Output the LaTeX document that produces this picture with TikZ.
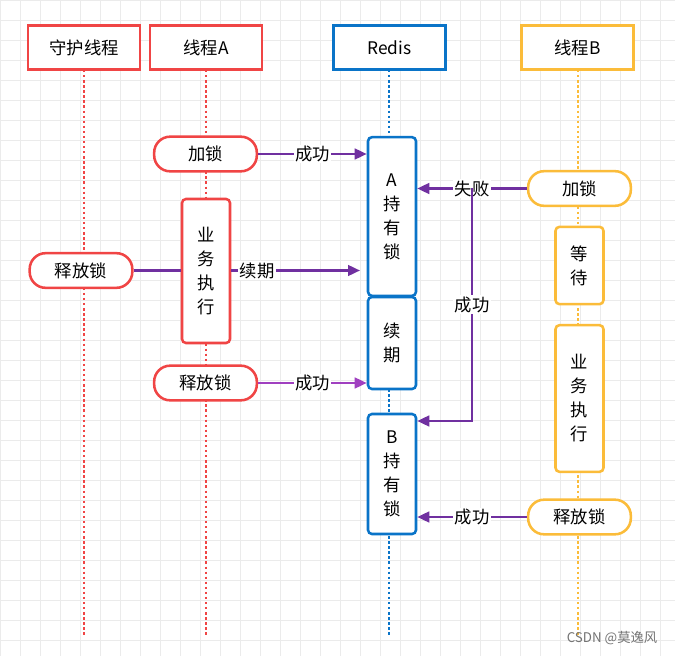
\documentclass[tikz,border=0pt]{standalone}
\usepackage{fontspec}
\setmainfont{Liberation Sans}
\newfontfamily\cjk{Noto Sans CJK SC}
\usetikzlibrary{arrows.meta}
\definecolor{rd}{HTML}{F04545}
\definecolor{bl}{HTML}{0A74C8}
\definecolor{yl}{HTML}{FBBC3A}
\definecolor{pp}{HTML}{7030A0}
\definecolor{pl}{HTML}{A040C0}
\begin{document}
\begin{tikzpicture}[x=0.75pt,y=-0.75pt,font=\cjk\fontsize{13}{18}\selectfont,
 box/.style={draw=#1,line width=1.9pt,fill=white,minimum width=84pt,minimum height=33pt,inner sep=0pt},
 pill/.style={draw=#1,line width=1.9pt,fill=white,rounded corners=12pt,minimum width=77pt,minimum height=26pt,inner sep=0pt},
 tall/.style={draw=#1,line width=1.9pt,fill=white,rounded corners=3pt,minimum width=36pt,inner sep=0pt,align=center},
 life/.style={draw=#1,line width=1.8pt,dotted},
 arr/.style={draw=pp,line width=1.8pt,-{Triangle[length=9pt,width=8pt]}},
 lab/.style={fill=white,inner sep=1pt}]
\useasboundingbox (0,0) rectangle (675,656);
\fill[white] (0,0) rectangle (675,656);
\foreach \i in {0,20,...,660} {\draw[black!8,line width=0.4pt] (\i,0) -- (\i,656);}
\foreach \i in {0,20,...,640} {\draw[black!8,line width=0.4pt] (0,\i) -- (675,\i);}
% lifelines
\draw[life=rd] (84,70) -- (84,636);
\draw[life=rd] (206,70) -- (206,636);
\draw[life=bl] (389,70) -- (389,636);
\draw[life=yl] (578,70) -- (578,636);
% headers
\node[box=rd] (h1) at (84,47.5) {守护线程};
\node[box=rd] (h2) at (206,47.5) {线程A};
\node[box=bl] (h3) at (389.5,47.5) {Redis};
\node[box=yl] (h4) at (577.5,47.5) {线程B};
% redis boxes
\node[tall=bl,minimum height=119pt] (ra) at (392,216.5) {A\\持\\有\\锁};
\node[tall=bl,minimum height=69pt] (rr) at (392,343) {续\\期};
\node[tall=bl,minimum height=90pt] (rb) at (392,474) {B\\持\\有\\锁};
% thread A
\node[pill=rd] (alock) at (205.5,154) {加锁};
\node[tall=rd,minimum height=108pt] (abiz) at (206,271) {业\\务\\执\\行};
\node[pill=rd] (arel) at (205.5,383) {释放锁};
\node[pill=rd] (drel) at (81,270.5) {释放锁};
% thread B
\node[pill=yl] (block) at (579.5,188.5) {加锁};
\node[tall=yl,minimum height=58pt] (bwait) at (579.5,265.5) {等\\待};
\node[tall=yl,minimum height=110pt] (bbiz) at (579.5,398.5) {业\\务\\执\\行};
\node[pill=yl] (brel) at (579.5,517) {释放锁};
% arrows
\draw[arr] (alock.east) -- node[lab]{成功} (alock.east -| ra.west);
\draw[pp,line width=1.8pt] (drel.east) -- (abiz.west |- drel.east);
\draw[arr] (abiz.east |- 0,270.5) -- node[lab,pos=0.2]{续期} (360,270.5);
\draw[arr,draw=pl] (arel.east) -- node[lab]{成功} (arel.east -| ra.west);
\coordinate (j) at (472,188.5);
\draw[arr] (block.west) -- node[lab]{失败} (block.west -| ra.east);
\draw[arr] (j) -- node[lab,pos=0.5]{成功} (472,421) -- (rb.east |- 0,421);
\draw[arr] (brel.west) -- node[lab]{成功} (brel.west -| rb.east);
\node[text=black!55,font=\cjk\fontsize{10}{12}\selectfont,anchor=east] (wm) at (662,638) {CSDN @莫逸风};
\end{tikzpicture}
\end{document}
